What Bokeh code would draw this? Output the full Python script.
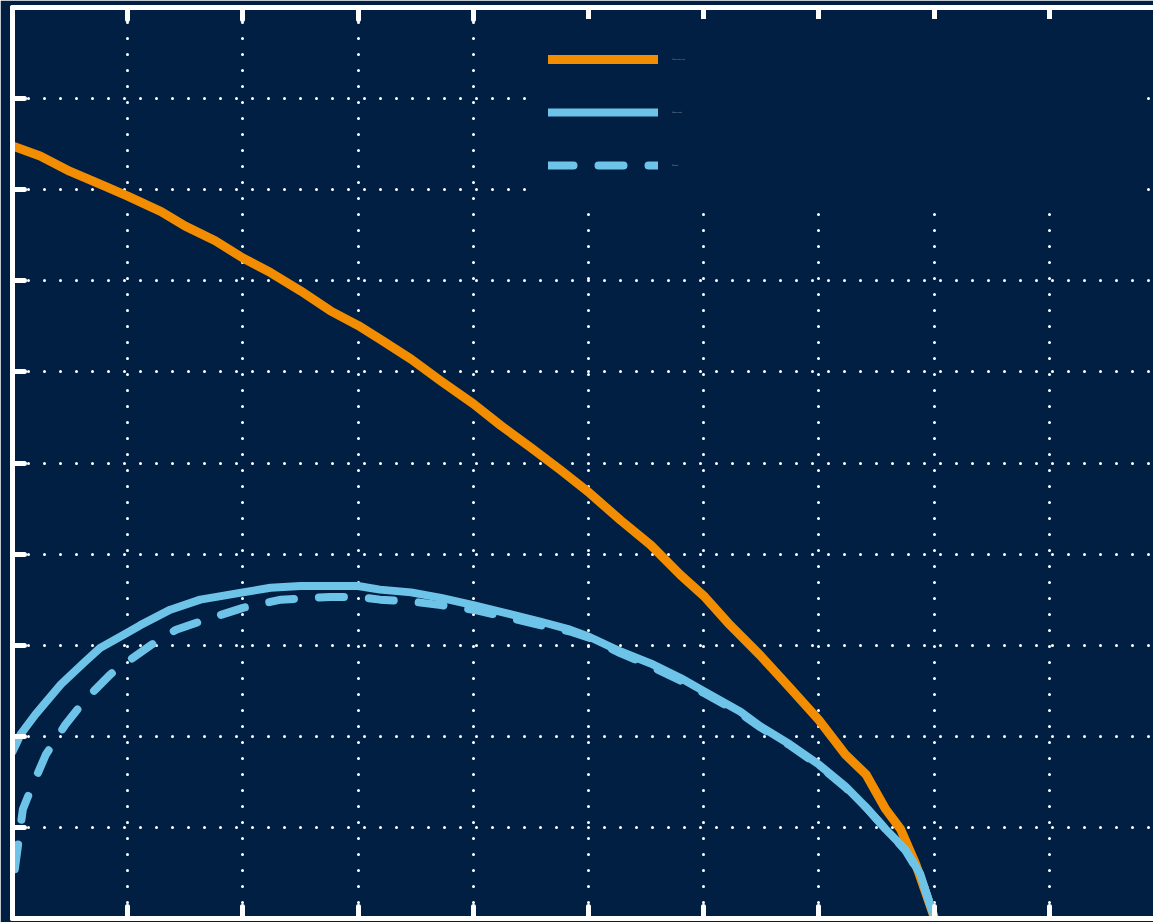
from bokeh.plotting import figure
from bokeh.models import (Range1d, LinearAxis, SingleIntervalTicker, Legend, LegendItem,
                          CustomJSTickFormatter)
from bokeh.embed import file_html
from bokeh.resources import INLINE

# ---- data ----
x_orange = [0.0, 0.24, 0.5, 0.76, 1.0, 1.29, 1.5, 1.76, 2.0, 2.24, 2.5, 2.76, 3.0, 3.19, 3.46,
            3.72, 4.0, 4.24, 4.5, 4.76, 5.01, 5.28, 5.54, 5.8, 6.01, 6.23, 6.49, 6.75, 7.0,
            7.23, 7.41, 7.58, 7.71, 7.84, 8.0]
y_orange = [8.48, 8.37, 8.2, 8.06, 7.93, 7.76, 7.6, 7.44, 7.25, 7.09, 6.89, 6.67, 6.51, 6.36, 6.14,
            5.9, 5.65, 5.41, 5.17, 4.92, 4.67, 4.37, 4.1, 3.77, 3.53, 3.22, 2.89, 2.53, 2.18,
            1.8, 1.58, 1.2, 0.98, 0.6, 0.02]

x_blue = [0.0, 0.07, 0.2, 0.42, 0.63, 0.76, 1.0, 1.11, 1.37, 1.63, 2.0, 2.24, 2.5, 3.0, 3.19,
          3.46, 3.72, 4.0, 4.32, 4.58, 4.84, 5.01, 5.28, 5.54, 5.8, 6.01, 6.32, 6.49, 6.75,
          7.0, 7.23, 7.41, 7.58, 7.75, 7.88, 8.0]
y_blue = [1.83, 2.02, 2.24, 2.57, 2.82, 2.97, 3.14, 3.22, 3.39, 3.5, 3.58, 3.63, 3.65, 3.65, 3.61,
          3.58, 3.52, 3.44, 3.34, 3.26, 3.17, 3.09, 2.93, 2.8, 2.64, 2.49, 2.27, 2.11, 1.91,
          1.69, 1.45, 1.22, 0.98, 0.76, 0.49, 0.02]

x_dash = [0.02, 0.09, 0.16, 0.29, 0.46, 0.63, 0.85, 1.0, 1.2, 1.42, 1.63, 2.0, 2.33, 2.76, 3.0,
          3.19, 3.46, 3.72, 4.0, 4.32, 4.58, 4.84, 5.01, 5.28, 5.54, 5.8, 6.01, 6.32, 6.49,
          6.75, 7.0, 7.23, 7.41, 7.58, 7.75, 7.88, 8.0]
y_dash = [0.54, 1.2, 1.42, 1.8, 2.13, 2.4, 2.68, 2.82, 3.0, 3.17, 3.26, 3.41, 3.5, 3.53, 3.53,
          3.5, 3.48, 3.44, 3.39, 3.3, 3.22, 3.15, 3.08, 2.91, 2.77, 2.61, 2.47, 2.25, 2.1,
          1.9, 1.68, 1.44, 1.22, 0.98, 0.75, 0.48, 0.02]

labels = ["Pressure rise", "Measured", "Model"]

NAVY = "#001F42"
ORANGE = "#F28C00"
BLUE = "#6EC4E8"

p = figure(width=1153, height=922, output_backend="svg", toolbar_location=None,
           x_range=Range1d(0, 9.905), y_range=Range1d(0, 10),
           x_axis_location=None, y_axis_location=None,
           min_border_left=12, min_border_top=7, min_border_bottom=2, min_border_right=0)
p.background_fill_color = NAVY
p.border_fill_color = NAVY
p.outline_line_color = None

tick = SingleIntervalTicker(interval=1)
blank = CustomJSTickFormatter(code="return ''")
for loc in ["left", "above", "below"]:
    ax = LinearAxis(ticker=tick, formatter=blank)
    ax.axis_line_color = "white"
    ax.axis_line_width = 5
    ax.major_tick_line_color = "white"
    ax.major_tick_line_width = 5
    ax.major_tick_line_cap = "round"
    ax.major_tick_in = 12
    ax.major_tick_out = 0
    ax.minor_tick_line_color = None
    ax.major_label_text_font_size = "1px"
    ax.major_label_standoff = 0
    ax.axis_label = None
    p.add_layout(ax, loc)

p.xgrid.ticker = tick
p.ygrid.ticker = tick
p.grid.grid_line_color = "white"
p.grid.grid_line_width = 3
p.grid.grid_line_dash = "0 16"
p.grid.grid_line_cap = "round"

r1 = p.line(x_orange, y_orange, line_color=ORANGE, line_width=9, line_cap="round", line_join="round")
r2 = p.line(x_blue, y_blue, line_color=BLUE, line_width=8, line_cap="round", line_join="round")
r3 = p.line(x_dash, y_dash, line_color=BLUE, line_width=8, line_cap="round", line_join="round",
            line_dash="25 25")

legend = Legend(items=[LegendItem(label=labels[0], renderers=[r1]),
                       LegendItem(label=labels[1], renderers=[r2]),
                       LegendItem(label=labels[2], renderers=[r3])],
                location=(516, 713))
legend.background_fill_color = NAVY
legend.background_fill_alpha = 1
legend.border_line_alpha = 0
legend.padding = 20
legend.spacing = 13
legend.margin = 0
legend.glyph_width = 110
legend.glyph_height = 40
legend.label_standoff = 14
legend.label_width = 451
legend.label_height = 10
legend.label_text_font_size = "2px"
legend.label_text_color = "#8C9AAE"
legend.label_text_font = "DejaVu Sans"
p.add_layout(legend, "center")

open("out.html", "w").write(file_html(p, INLINE))
